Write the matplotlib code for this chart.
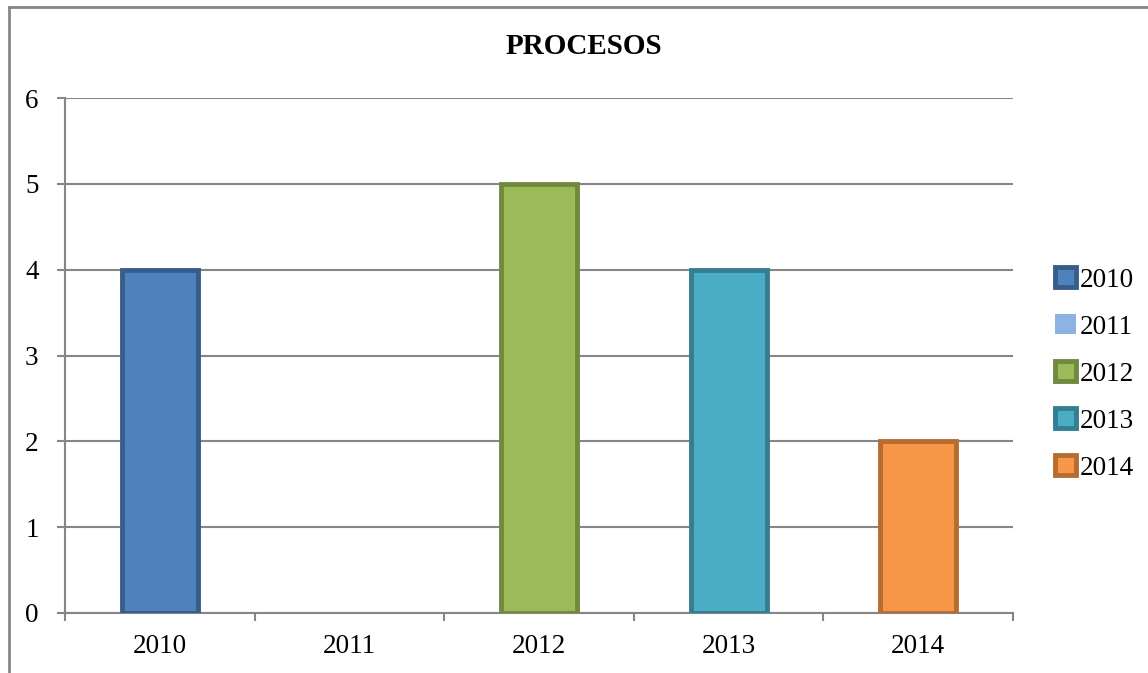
import matplotlib
matplotlib.use('Agg')
import matplotlib.pyplot as plt
from matplotlib.lines import Line2D
import numpy as np

years = ['2010', '2011', '2012', '2013', '2014']
values = [4, 0, 5, 4, 2]
fills = ['#4F81BD', '#8DB3E2', '#9BBB59', '#4BACC6', '#F79646']
edges = ['#385D8A', 'none', '#71893F', '#357D91', '#B66D31']

plt.rcParams['font.family'] = ['Liberation Serif', 'DejaVu Serif']
grey = '#868686'

fig = plt.figure(figsize=(11.48, 6.73), dpi=100)
ax = fig.add_axes([65/1148, 60/673, (1013-65)/1148, (613-98)/673])

x = np.arange(len(years))
for i in range(len(years)):
    lw = 3.5 if edges[i] != 'none' else 0
    ax.bar(x[i], values[i], width=0.40, color=fills[i], edgecolor=edges[i],
           linewidth=lw, label=years[i], zorder=3)

ax.set_xlim(-0.5, len(years) - 0.5)
ax.set_ylim(0, 6)
ax.set_yticks(range(0, 7))
ax.yaxis.grid(True, color=grey, linewidth=1.5, zorder=0)
ax.set_axisbelow(True)

ax.set_xticks(x)
ax.set_xticklabels(years)
ax.set_xticks(np.arange(-0.5, len(years)), minor=True)
ax.tick_params(axis='x', which='major', length=0, labelsize=19.5, pad=15)
ax.tick_params(axis='x', which='minor', length=6, width=1.5, color=grey)
ax.tick_params(axis='y', length=6, width=1.5, color=grey, labelsize=19.5, pad=13)

for s in ['top', 'right']:
    ax.spines[s].set_visible(False)
for s in ['left', 'bottom']:
    ax.spines[s].set_color(grey)
    ax.spines[s].set_linewidth(1.5)

fig.text(584/1148, 1 - 47/673, 'PROCESOS', ha='center', va='center',
         fontsize=21, fontweight='bold')

leg = fig.legend(loc='center left', bbox_to_anchor=(1031/1148, 1 - 374/673),
                 frameon=False, fontsize=19.5, handlelength=0.75, handleheight=0.75,
                 handletextpad=0.15, labelspacing=0.8)

# outer chart frame (cut at right and bottom)
fig.add_artist(Line2D([9/1148, 1], [1 - 7/673, 1 - 7/673], color=grey, linewidth=2,
                      transform=fig.transFigure))
fig.add_artist(Line2D([9/1148, 9/1148], [0, 1 - 7/673], color=grey, linewidth=2,
                      transform=fig.transFigure))

fig.savefig('out.png', dpi=100)
